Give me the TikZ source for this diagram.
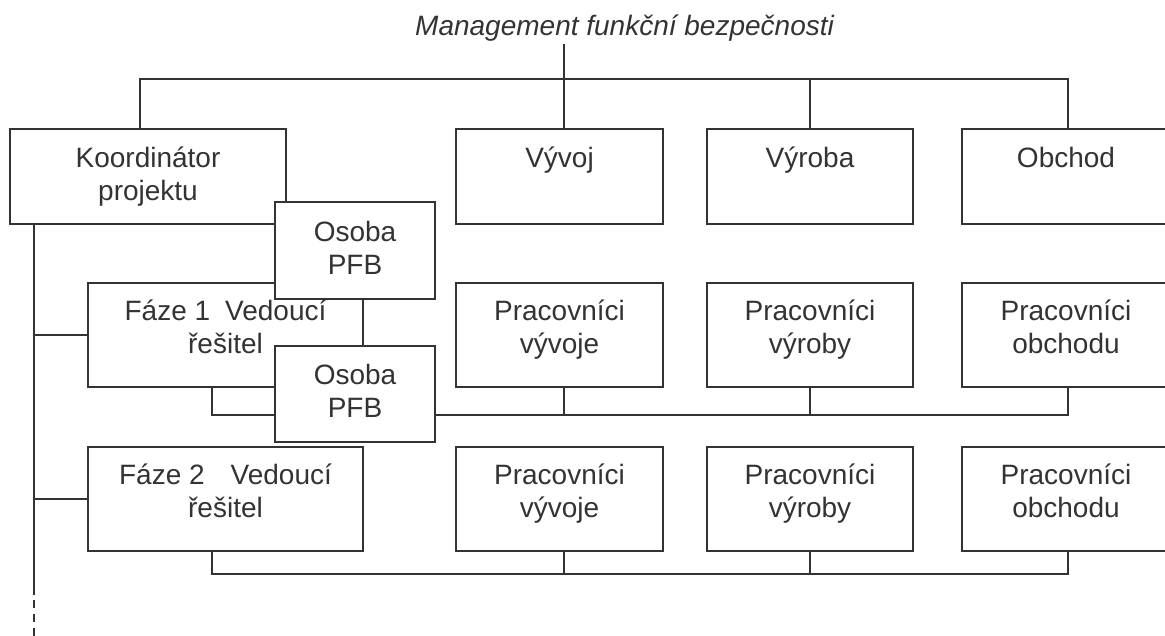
\documentclass[tikz,border=0pt]{standalone}
\usepackage{fontspec}
\setmainfont{Liberation Sans}
\definecolor{ink}{HTML}{333333}
\tikzset{
  box/.style={draw=ink, line width=2.8pt, fill=white, inner sep=0pt, align=center,
    text=ink, font=\fontsize{28}{33}\selectfont,
    execute at begin node={\rule{0pt}{22pt}},
    execute at end node={\rule[-6pt]{0pt}{0pt}}},
  deep/.style={execute at end node={\rule[-16pt]{0pt}{0pt}}},
  conn/.style={draw=ink, line width=2.8pt},
}
\begin{document}
\begin{tikzpicture}[x=1pt,y=-1pt]
\useasboundingbox (0,0) rectangle (1165,636);
\clip (0,0) rectangle (1165,636);

% title
\node[font=\fontsize{28}{33}\selectfont\itshape, text=ink, anchor=base west, inner sep=0pt]
  (title) at (415,36) {Management funkční bezpečnosti};

% row 1
\node[box, minimum width=276pt, minimum height=95pt] (koord) at (148,176.5) {Koordinátor\\projektu};
\node[box, minimum width=207pt, minimum height=95pt] (vyvoj) at (559.5,176.5) {Vývoj\\\mbox{}};
\node[box, minimum width=206pt, minimum height=95pt] (vyroba) at (810,176.5) {Výroba\\\mbox{}};
\node[box, minimum width=208pt, minimum height=95pt] (obchod) at (1066,176.5) {Obchod\\\mbox{}};

% row 2
\node[box, deep, minimum width=275pt, minimum height=104pt] (faze1) at (225.5,335) {Fáze 1\hspace{15pt}Vedoucí\\řešitel};
\node[box, deep, minimum width=207pt, minimum height=104pt] (pv1) at (559.5,335) {Pracovníci\\vývoje};
\node[box, deep, minimum width=206pt, minimum height=104pt] (pr1) at (810,335) {Pracovníci\\výroby};
\node[box, deep, minimum width=208pt, minimum height=104pt] (po1) at (1066,335) {Pracovníci\\obchodu};

% row 3
\node[box, deep, minimum width=275pt, minimum height=104pt] (faze2) at (225.5,499) {Fáze 2\hspace{26pt}Vedoucí\\řešitel};
\node[box, deep, minimum width=207pt, minimum height=104pt] (pv2) at (559.5,499) {Pracovníci\\vývoje};
\node[box, deep, minimum width=206pt, minimum height=104pt] (pr2) at (810,499) {Pracovníci\\výroby};
\node[box, deep, minimum width=208pt, minimum height=104pt] (po2) at (1066,499) {Pracovníci\\obchodu};

% helper coordinates
\coordinate (t1) at (564,44);
\coordinate (b1) at (0,79);
\coordinate (b2) at (0,415);
\coordinate (b3) at (0,574);
\coordinate (cK) at (140,0);
\coordinate (cV) at (564,0);
\coordinate (cR) at (810,0);
\coordinate (cO) at (1068,0);
\coordinate (cF) at (212,0);
\coordinate (cL) at (34,0);
\coordinate (dsolid) at (34,595);
\coordinate (dstart) at (34,600);
\coordinate (dend) at (34,640);

% top bus
\draw[conn] (t1) -- (cV |- vyvoj.north);
\draw[conn] (cK |- koord.north) |- (cO |- b1) -- (cO |- obchod.north);
\draw[conn] (cR |- b1) -- (cR |- vyroba.north);

% left spine
\draw[conn] (cL |- koord.south) -- (dsolid);
\draw[conn, dash pattern=on 8pt off 6pt] (dstart) -- (dend);
\draw[conn] (cL |- faze1.west) -- (faze1.west);
\draw[conn] (cL |- faze2.west) -- (faze2.west);

% bus under row 2
\draw[conn] (cF |- faze1.south) |- (cO |- b2) -- (cO |- po1.south);
\draw[conn] (cV |- pv1.south) -- (cV |- b2);
\draw[conn] (cR |- pr1.south) -- (cR |- b2);

% bus under row 3
\draw[conn] (cF |- faze2.south) |- (cO |- b3) -- (cO |- po2.south);
\draw[conn] (cV |- pv2.south) -- (cV |- b3);
\draw[conn] (cR |- pr2.south) -- (cR |- b3);

% Osoba PFB boxes on top
\node[box, minimum width=160pt, minimum height=97pt] (osoba1) at (355,250.5) {Osoba\\PFB};
\node[box, minimum width=160pt, minimum height=96pt] (osoba2) at (355,394) {Osoba\\PFB};
\end{tikzpicture}
\end{document}
